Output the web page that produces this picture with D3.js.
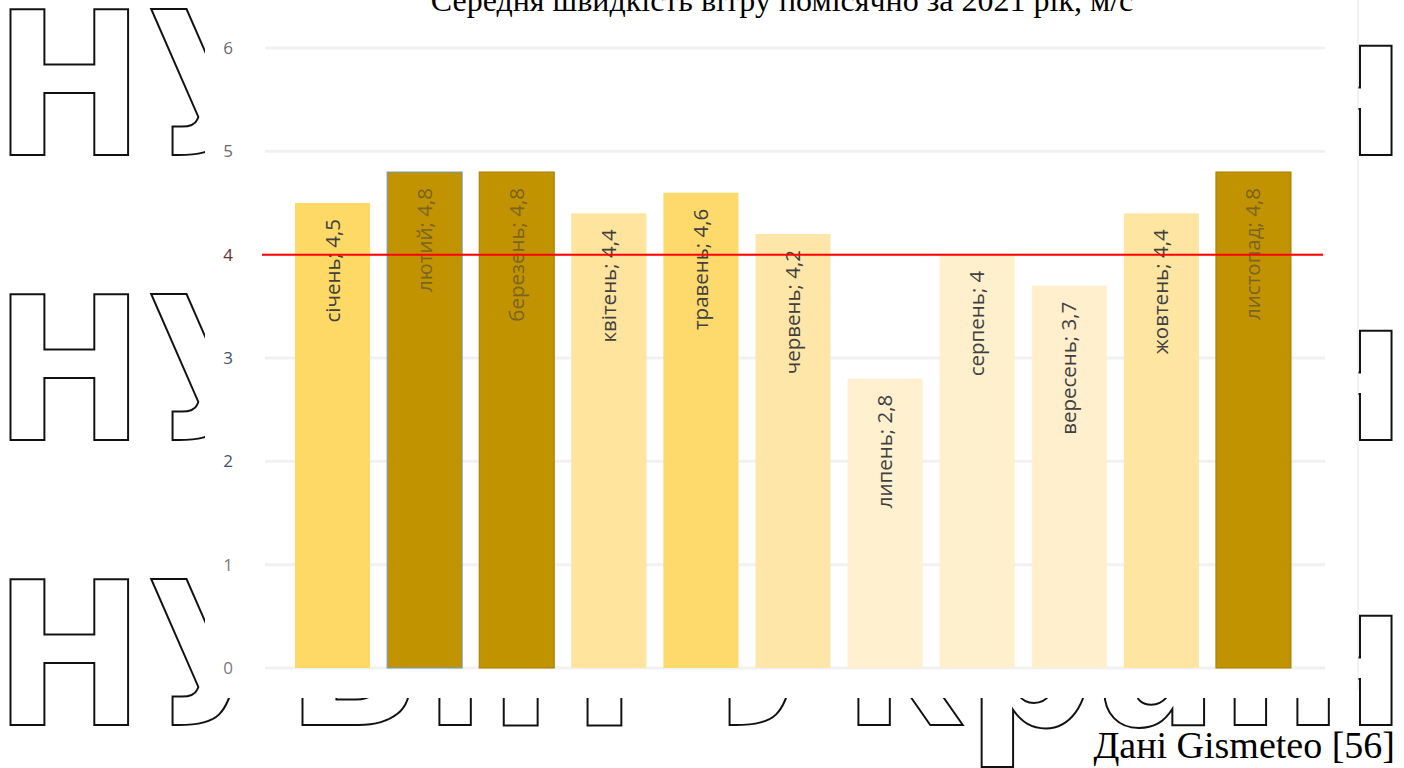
<!DOCTYPE html>
<meta charset="utf-8">
<style>
  body { margin: 0; background: #fff; }
  svg { display: block; }
  .tick-label { font-family: "Open Sans", sans-serif; font-size: 17px; }
  .bar-label { font-family: "Open Sans", sans-serif; font-size: 20.5px; }
  .serif { font-family: "Liberation Serif", "Times New Roman", serif; fill: #000; }
  .wm { font-family: "DejaVu Sans Condensed", "DejaVu Sans", sans-serif; font-weight: bold; font-stretch: condensed;
        font-size: 200px; fill: none; stroke: #111; stroke-width: 2; letter-spacing: 1.3px; }
</style>
<body>
<div id="chart"></div>
<script src="https://d3js.org/d3.v7.min.js"></script>
<script>
  // data
  const months = ["січень", "лютий", "березень", "квітень", "травень", "червень",
                  "липень", "серпень", "вересень", "жовтень", "листопад"];
  const speeds = [4.5, 4.8, 4.8, 4.4, 4.6, 4.2, 2.8, 4.0, 3.7, 4.4, 4.8];
  const barFill = ["#fed966", "#c29300", "#c29300", "#fee49c", "#fed96c", "#fee6a8",
                   "#fff1cf", "#fff0cd", "#ffefcc", "#fee5a2", "#c29300"];
  const barStroke = [null, "#6f9cc2", "#a57d00", null, null, null, null, null, null, null, "#a57d00"];
  const yTicks = [0, 1, 2, 3, 4, 5, 6];
  const tickColor = ["#7a7a7a", "#7a7a7a", "#44506a", "#44506a", "#6d2c3c", "#6a6a6a", "#6a6a6a"];
  const normLevel = 4;
  const title = "Середня швидкість вітру помісячно за 2021 рік, м/с";
  const source = "Дані Gismeteo [56]";
  const watermark = "НУБіП України";

  const W = 1404, H = 768;
  const svg = d3.select("#chart").append("svg").attr("width", W).attr("height", H);

  svg.append("rect").attr("width", W).attr("height", H).attr("fill", "#fff");

  // watermark rows behind the chart picture
  [155, 440, 725].forEach(function (yb) {
    svg.append("text").attr("class", "wm").attr("x", -6).attr("y", yb).text(watermark);
  });

  // chart picture panel
  svg.append("rect").attr("x", 205).attr("y", -2).attr("width", 1153).attr("height", 700)
    .attr("fill", "#fff");
  svg.append("line").attr("x1", 1358).attr("x2", 1358).attr("y1", 0).attr("y2", 690)
    .attr("stroke", "#e6e6e6");

  var x = d3.scaleBand().domain(months).range([286.5, 1299.5]).paddingInner(0.185).paddingOuter(0.0925);
  var y = d3.scaleLinear().domain([0, 6]).range([668, 48]);

  // gridlines (very faint in the original)
  svg.append("g").selectAll("line").data(yTicks).enter().append("line")
    .attr("x1", 265).attr("x2", 1325)
    .attr("y1", d => y(d)).attr("y2", d => y(d))
    .attr("stroke", "#f1f1f1").attr("stroke-width", 3);

  // y axis labels
  svg.append("g").selectAll("text").data(yTicks).enter().append("text")
    .attr("class", "tick-label")
    .attr("x", 228).attr("y", d => y(d) + 6)
    .attr("text-anchor", "middle")
    .attr("fill", (d, i) => tickColor[i])
    .text(d => d);

  // bars
  svg.append("g").selectAll("rect").data(speeds).enter().append("rect")
    .attr("x", (d, i) => x(months[i]))
    .attr("y", d => y(d))
    .attr("width", x.bandwidth())
    .attr("height", d => y(0) - y(d))
    .attr("fill", (d, i) => barFill[i])
    .attr("stroke", (d, i) => barStroke[i] || "none")
    .attr("stroke-width", 1);

  // rotated labels inside bars
  svg.append("g").selectAll("text").data(speeds).enter().append("text")
    .attr("class", "bar-label")
    .attr("text-anchor", "end")
    .attr("transform", (d, i) => "translate(" + (x(months[i]) + x.bandwidth() / 2 + 7) + "," + (y(d) + 16) + ") rotate(-90)")
    .attr("fill", (d, i) => barFill[i] === "#c29300" ? "#7a6420" : "#404040")
    .text((d, i) => months[i] + "; " + String(d).replace(".", ","));

  // 4 m/s reference line
  svg.append("line")
    .attr("x1", 262).attr("x2", 1323)
    .attr("y1", y(normLevel)).attr("y2", y(normLevel))
    .attr("stroke", "#ff0000").attr("stroke-width", 2);

  svg.append("text").attr("class", "serif").attr("x", 782).attr("y", 11)
    .attr("text-anchor", "middle").attr("font-size", 32).text(title);

  svg.append("text").attr("class", "serif").attr("x", 1395).attr("y", 758)
    .attr("text-anchor", "end").attr("font-size", 38).text(source);
</script>
</body>
